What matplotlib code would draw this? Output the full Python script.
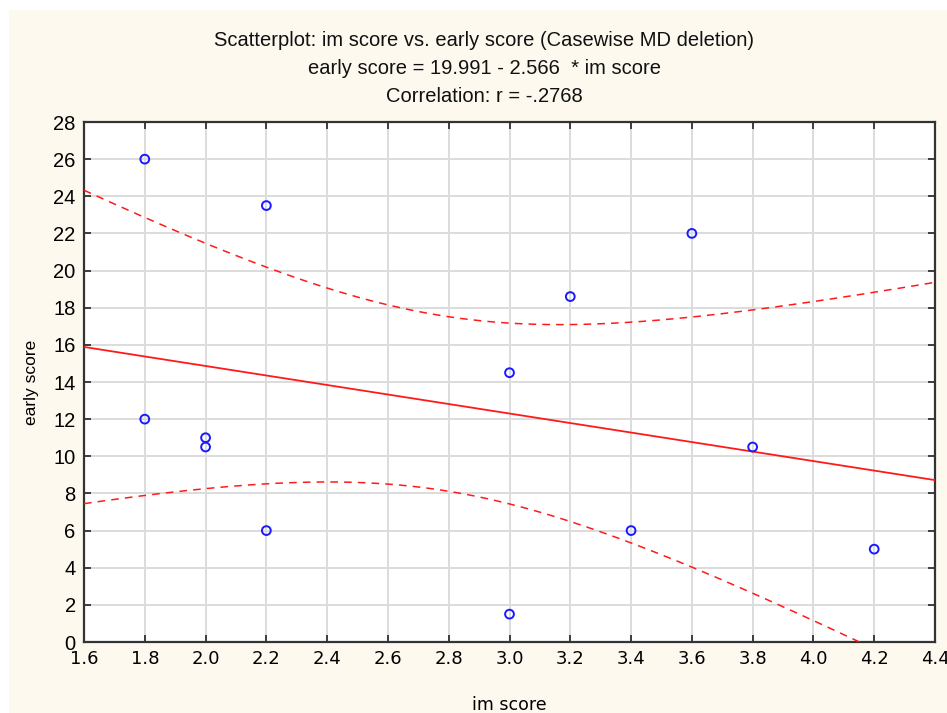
import numpy as np
import matplotlib.pyplot as plt
from matplotlib.patches import Rectangle

# data
im_score = [1.8, 1.8, 2.0, 2.0, 2.2, 2.2, 3.0, 3.0, 3.2, 3.4, 3.6, 3.8, 4.2]
early_score = [26.0, 12.0, 11.0, 10.5, 23.5, 6.0, 14.5, 1.5, 18.6, 6.0, 22.0, 10.5, 5.0]
x_ticks = [1.6, 1.8, 2.0, 2.2, 2.4, 2.6, 2.8, 3.0, 3.2, 3.4, 3.6, 3.8, 4.0, 4.2, 4.4]
y_ticks = list(range(0, 30, 2))
titles = ["Scatterplot: im score vs. early score (Casewise MD deletion)",
          "early score = 19.991 - 2.566  * im score",
          "Correlation: r = -.2768"]

narrow = ['Liberation Sans Narrow', 'Liberation Sans', 'DejaVu Sans']

x = np.array(im_score)
y = np.array(early_score)

# linear fit and 95% confidence band of the mean
slope, intercept = np.polyfit(x, y, 1)
n = len(x)
resid = y - (intercept + slope * x)
s = np.sqrt(np.sum(resid ** 2) / (n - 2))
sxx = np.sum((x - x.mean()) ** 2)
t_crit = 2.201  # t(0.975, 11)
xs = np.linspace(1.6, 4.4, 300)
fit = intercept + slope * xs
half = t_crit * s * np.sqrt(1 / n + (xs - x.mean()) ** 2 / sxx)

fig = plt.figure(figsize=(9.47, 7.13), dpi=100)
fig.patch.set_facecolor('white')
fig.patches.append(Rectangle((9 / 947, 0), 1, 1 - 10 / 713, transform=fig.transFigure,
                             facecolor='#fdf9ef', edgecolor='none', zorder=-10))

ax = fig.add_axes([84 / 947, 1 - 642 / 713, (935 - 84) / 947, (642 - 122) / 713])
ax.set_facecolor('white')

ax.plot(xs, fit, color='#ff1a1a', lw=1.3, zorder=3)
ax.plot(xs, fit + half, color='#ff1a1a', lw=1.1, ls=(0, (5, 4)), zorder=3)
ax.plot(xs, fit - half, color='#ff1a1a', lw=1.1, ls=(0, (5, 4)), zorder=3)
ax.scatter(x, y, s=40, facecolors='none', edgecolors='#1a1aff', linewidths=1.4, zorder=4)

ax.set_xlim(1.6, 4.4)
ax.set_ylim(0, 28)
ax.set_xticks(x_ticks)
ax.set_xticklabels([f"{v:.1f}" for v in x_ticks], fontsize=13, family='DejaVu Sans')
ax.set_yticks(y_ticks)
ax.set_yticklabels([str(v) for v in y_ticks], fontsize=14.5, family=narrow)
ax.tick_params(direction='in', length=5, width=1.2, top=True, right=True,
               color='#222222', pad=6)
ax.grid(True, color='#dcdcdc', lw=1.4)
ax.set_axisbelow(True)
for side in ax.spines.values():
    side.set_color('#333333')
    side.set_linewidth(1.6)

ax.set_xlabel("im score", fontsize=12.5, family='DejaVu Sans', labelpad=20)
ax.set_ylabel("early score", fontsize=12.5, family='Liberation Sans', labelpad=10)

for i, t in enumerate(titles):
    fig.text(484 / 947, 1 - (40 + i * 28.5) / 713, t, ha='center', va='center',
             fontsize=14.5, family=narrow, color='#111111')

plt.savefig("out.png", dpi=100, facecolor=fig.get_facecolor())
